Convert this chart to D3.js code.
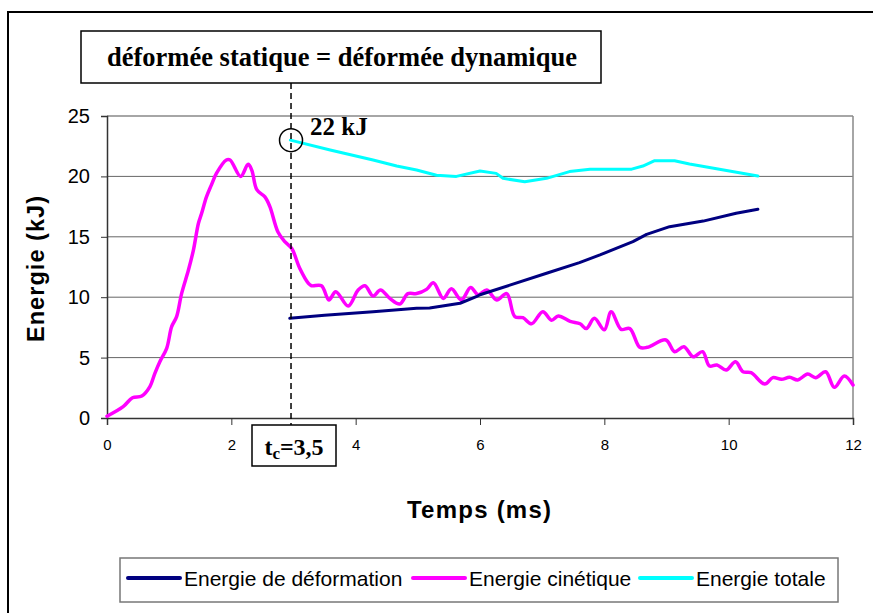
<!DOCTYPE html>
<html>
<head>
<meta charset="utf-8">
<script src="https://cdn.jsdelivr.net/npm/d3@7"></script>
<style>
  html, body { margin: 0; padding: 0; background: #fff; }
  svg { display: block; }
</style>
</head>
<body>
<svg id="chart" width="873" height="613"></svg>
<script>
// ---- data ----
const xTicks = [0, 2, 4, 6, 8, 10, 12];
const yTicks = [0, 5, 10, 15, 20, 25];

const cinTime = [0, 0.26, 0.41, 0.56, 0.69, 0.77, 0.85, 0.96, 1.04, 1.12, 1.2, 1.31, 1.39, 1.47, 1.52, 1.6, 1.68, 1.76, 1.92, 1.98, 2.15, 2.27, 2.33, 2.41, 2.54, 2.62, 2.75, 2.86, 2.97, 3.1, 3.24, 3.29, 3.45, 3.57, 3.68, 3.88, 4.04, 4.15, 4.28, 4.4, 4.55, 4.71, 4.84, 4.98, 5.14, 5.25, 5.41, 5.54, 5.7, 5.85, 5.97, 6.11, 6.27, 6.43, 6.56, 6.69, 6.83, 7.01, 7.15, 7.26, 7.45, 7.61, 7.71, 7.84, 8.0, 8.11, 8.27, 8.41, 8.57, 8.69, 8.99, 9.13, 9.28, 9.43, 9.58, 9.69, 9.81, 9.96, 10.11, 10.23, 10.36, 10.58, 10.71, 10.85, 10.98, 11.11, 11.27, 11.4, 11.56, 11.7, 11.86, 12.0];
const cinValue = [0.15, 0.94, 1.68, 1.82, 2.6, 3.7, 4.66, 5.77, 7.56, 8.39, 10.3, 12.25, 13.9, 16.1, 16.9, 18.3, 19.3, 20.25, 21.36, 21.36, 20.0, 21.0, 20.5, 18.9, 18.3, 17.5, 15.4, 14.6, 14.05, 12.4, 11.15, 10.95, 10.95, 9.77, 10.46, 9.27, 10.6, 10.95, 10.1, 10.6, 9.9, 9.44, 10.3, 10.3, 10.65, 11.2, 9.9, 10.7, 9.77, 10.8, 10.2, 10.6, 9.77, 10.3, 8.4, 8.3, 7.8, 8.8, 8.1, 8.45, 8.0, 7.8, 7.4, 8.25, 7.3, 8.8, 7.34, 7.4, 5.85, 5.85, 6.46, 5.49, 5.9, 5.07, 5.49, 4.3, 4.39, 3.97, 4.66, 3.83, 3.75, 2.81, 3.34, 3.2, 3.37, 3.15, 3.64, 3.34, 3.83, 2.54, 3.48, 2.73];

const defTime = [2.94, 3.5, 4.28, 4.98, 5.19, 5.68, 5.94, 6.0, 6.48, 7.07, 7.6, 7.93, 8.19, 8.46, 8.68, 9.05, 9.59, 10.12, 10.47];
const defValue = [8.25, 8.5, 8.8, 9.08, 9.1, 9.5, 10.04, 10.2, 11.0, 11.98, 12.86, 13.5, 14.05, 14.6, 15.2, 15.84, 16.3, 16.95, 17.28];

const totTime = [2.95, 3.59, 4.28, 4.66, 4.98, 5.3, 5.62, 6.0, 6.26, 6.37, 6.72, 7.07, 7.44, 7.77, 8.44, 8.62, 8.81, 9.13, 9.37, 10.47];
const totValue = [23.0, 22.19, 21.36, 20.86, 20.53, 20.1, 20.0, 20.45, 20.25, 19.84, 19.56, 19.84, 20.4, 20.6, 20.6, 20.86, 21.3, 21.3, 21.03, 20.03];

const seriesNames = ["Energie de déformation", "Energie cinétique", "Energie totale"];
const seriesColors = ["#000080", "#FF00FF", "#00FFFF"];

const tcPosition = 2.96;   // time at which the dashed marker is drawn
const peakTotal = 23.0;    // value marked with the circle
const titleText = "déformée statique = déformée dynamique";
const peakLabel = "22 kJ";
const xTitle = "Temps (ms)";
const yTitle = "Energie (kJ)";

// ---- drawing ----
const svg = d3.select("#chart");
const sans = "'Liberation Sans', Arial, sans-serif";
const serif = "'Liberation Serif', 'Times New Roman', serif";

const plot = { left: 107, right: 853, top: 116, bottom: 418 };
const x = d3.scaleLinear().domain([0, 12]).range([plot.left, plot.right]);
const y = d3.scaleLinear().domain([0, 25]).range([plot.bottom, plot.top]);

// outer frame (right/bottom edges fall outside the window)
svg.append("rect").attr("x", 8).attr("y", 12).attr("width", 880).attr("height", 620)
  .attr("fill", "none").attr("stroke", "#000").attr("stroke-width", 2);

// gridlines
svg.append("g").selectAll("line").data(yTicks.filter(d => d > 0)).join("line")
  .attr("x1", plot.left).attr("x2", plot.right)
  .attr("y1", d => y(d)).attr("y2", d => y(d))
  .attr("stroke", d => d === 25 ? "#888" : "#666").attr("stroke-width", d => d === 25 ? 1.5 : 1);

// right border of plot area
svg.append("line").attr("x1", plot.right).attr("x2", plot.right)
  .attr("y1", plot.top).attr("y2", plot.bottom).attr("stroke", "#888").attr("stroke-width", 1.5);

// axes
const xAxis = d3.axisBottom(x).tickValues(xTicks).tickSize(7).tickPadding(14).tickFormat(d3.format("d"));
const gx = svg.append("g").attr("transform", `translate(0,${plot.bottom})`).call(xAxis);
gx.select(".domain").attr("stroke", "#333").attr("stroke-width", 1.5);
gx.selectAll(".tick line").attr("stroke", "#333");
gx.selectAll("text").attr("font-family", sans).attr("font-size", 15).attr("fill", "#000");

const yAxis = d3.axisLeft(y).tickValues(yTicks).tickSize(6).tickPadding(11).tickFormat(d3.format("d"));
const gy = svg.append("g").attr("transform", `translate(${plot.left},0)`).call(yAxis);
gy.select(".domain").attr("stroke", "#333").attr("stroke-width", 1.5);
gy.selectAll(".tick line").attr("stroke", "#333");
gy.selectAll("text").attr("font-family", sans).attr("font-size", 20).attr("fill", "#000");

// series
const smoothLine = d3.line().x(d => x(d[0])).y(d => y(d[1])).curve(d3.curveCatmullRom.alpha(0.5));
const straightLine = d3.line().x(d => x(d[0])).y(d => y(d[1]));
const seriesData = [
  d3.zip(defTime, defValue),
  d3.zip(cinTime, cinValue),
  d3.zip(totTime, totValue)
];
const order = [1, 0, 2];
order.forEach(i => {
  svg.append("path").datum(seriesData[i])
    .attr("d", i === 1 ? smoothLine : straightLine).attr("fill", "none")
    .attr("stroke", seriesColors[i]).attr("stroke-width", i === 1 ? 3.5 : 3)
    .attr("stroke-linejoin", "round").attr("stroke-linecap", "round");
});

// dashed marker line
svg.append("line").attr("x1", x(tcPosition)).attr("x2", x(tcPosition))
  .attr("y1", 83).attr("y2", 425)
  .attr("stroke", "#000").attr("stroke-width", 1.5).attr("stroke-dasharray", "6,4");

// circle on peak total energy
svg.append("circle").attr("cx", x(tcPosition)).attr("cy", y(peakTotal)).attr("r", 11.5)
  .attr("fill", "none").attr("stroke", "#000").attr("stroke-width", 1.5);
svg.append("text").attr("x", x(tcPosition) + 19).attr("y", y(peakTotal) - 5)
  .attr("font-family", serif).attr("font-weight", "bold").attr("font-size", 25)
  .text(peakLabel);

// title box
svg.append("rect").attr("x", 81).attr("y", 31).attr("width", 520).attr("height", 52)
  .attr("fill", "#fff").attr("stroke", "#000").attr("stroke-width", 1.5);
svg.append("text").attr("x", 342).attr("y", 66).attr("text-anchor", "middle")
  .attr("font-family", serif).attr("font-weight", "bold").attr("font-size", 26.5)
  .text(titleText);

// tc box
svg.append("rect").attr("x", 252).attr("y", 425).attr("width", 84).attr("height", 41)
  .attr("fill", "#fff").attr("stroke", "#000").attr("stroke-width", 1.5);
const tcText = svg.append("text").attr("x", 294).attr("y", 455).attr("text-anchor", "middle")
  .attr("font-family", serif).attr("font-weight", "bold").attr("font-size", 24);
tcText.append("tspan").text("t");
tcText.append("tspan").attr("font-size", 17).attr("dy", 4).text("c");
tcText.append("tspan").attr("dy", -4).text("=3,5");

// axis titles
svg.append("text").attr("x", 479).attr("y", 518).attr("text-anchor", "middle")
  .attr("font-family", sans).attr("font-weight", "bold").attr("font-size", 24)
  .attr("textLength", 144).attr("lengthAdjust", "spacing")
  .text(xTitle);
svg.append("text").attr("transform", "translate(44,269) rotate(-90)").attr("text-anchor", "middle")
  .attr("font-family", sans).attr("font-weight", "bold").attr("font-size", 23.5)
  .attr("textLength", 146).attr("lengthAdjust", "spacing")
  .text(yTitle);

// legend
svg.append("rect").attr("x", 120).attr("y", 558).attr("width", 718).attr("height", 44)
  .attr("fill", "#fff").attr("stroke", "#777").attr("stroke-width", 1.5);
const legendX = [128, 413, 640];
seriesNames.forEach((name, i) => {
  const g = svg.append("g").attr("transform", `translate(${legendX[i]},578)`);
  g.append("line").attr("x1", 0).attr("x2", 52).attr("y1", 0).attr("y2", 0)
    .attr("stroke", seriesColors[i]).attr("stroke-width", 4).attr("stroke-linecap", "round");
  g.append("text").attr("x", 56).attr("y", 7.5)
    .attr("font-family", sans).attr("font-size", 21).attr("fill", "#000")
    .text(name);
});
</script>
</body>
</html>
